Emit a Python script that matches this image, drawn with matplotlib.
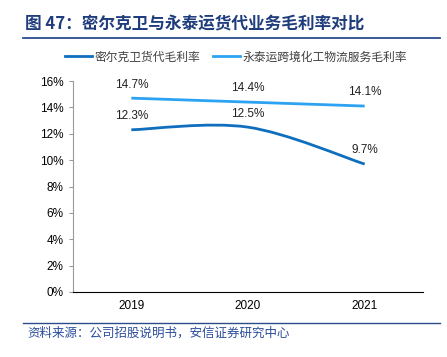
import numpy as np
import matplotlib
matplotlib.use('Agg')
import matplotlib.pyplot as plt
from matplotlib.path import Path
from matplotlib.patches import PathPatch
from matplotlib.lines import Line2D

plt.rcParams['font.family'] = ['Noto Sans CJK SC', 'DejaVu Sans']

# data
years = ['2019', '2020', '2021']
mek = [12.3, 12.5, 9.7]      # 密尔克卫货代毛利率
ytl = [14.7, 14.4, 14.1]     # 永泰运跨境化工物流服务毛利率
names = ['密尔克卫货代毛利率', '永泰运跨境化工物流服务毛利率']
colors = ['#0F6EBE', '#2BA3F2']
num_font = 'Liberation Sans'

W, H = 447, 357
fig = plt.figure(figsize=(W/100, H/100), dpi=100)
ax = fig.add_axes([73/W, 1-292/H, 350/W, 211/H])


def smooth_path(x, y):
    # Excel-like smoothed line via cubic bezier (Catmull-Rom tangents)
    x = np.asarray(x, float); y = np.asarray(y, float)
    n = len(x)
    verts = [(x[0], y[0])]
    codes = [Path.MOVETO]
    for i in range(n-1):
        p0 = np.array([x[max(i-1, 0)], y[max(i-1, 0)]])
        p1 = np.array([x[i], y[i]])
        p2 = np.array([x[i+1], y[i+1]])
        p3 = np.array([x[min(i+2, n-1)], y[min(i+2, n-1)]])
        c1 = p1 + (p2 - p0)/6
        c2 = p2 - (p3 - p1)/6
        verts += [tuple(c1), tuple(c2), tuple(p2)]
        codes += [Path.CURVE4]*3
    return Path(verts, codes)


xs = np.arange(len(years))
for vals, c in zip([mek, ytl], colors):
    ax.add_patch(PathPatch(smooth_path(xs, vals), fill=False, edgecolor=c,
                           lw=2.0, capstyle='butt'))
    for x, v in zip(xs, vals):
        ax.annotate(f'{v:.1f}%', (x, v), xytext=(0, 5.5), textcoords='offset points',
                    ha='center', va='bottom', fontsize=8.5, color='#222222',
                    family=num_font)

ax.set_xlim(-0.5, 2.5)
ax.set_ylim(0, 16)
ax.set_yticks(np.arange(0, 17, 2))
ax.set_yticklabels([f'{v}%' for v in range(0, 17, 2)], family=num_font, fontsize=8.5)
ax.set_xticks(xs)
ax.set_xticklabels(years, family=num_font, fontsize=8.5)
ax.tick_params(axis='x', length=0, pad=6)
ax.tick_params(axis='y', length=3, color='#999999', pad=4)
for s in ['top', 'right']:
    ax.spines[s].set_visible(False)
ax.spines['left'].set_color('#999999')
ax.spines['bottom'].set_color('#000000')

# legend
handles = [Line2D([], [], color=c, lw=2.0) for c in colors]
fig.legend(handles, names, loc='center', bbox_to_anchor=(236/W, 1-57/H), ncol=2,
           frameon=False, fontsize=8.5, handlelength=2.3, handletextpad=0.25,
           columnspacing=1.0, labelcolor='#404040')

# title and rules
fig.text(25/W, 1-24/H, '图 47：密尔克卫与永泰运货代业务毛利率对比', fontsize=12,
         fontweight='bold', color='#1F3C7C', va='center', ha='left')
fig.add_artist(Line2D([23/W, 440/W], [1-38/H, 1-38/H], color='#2B4D8C', lw=1.3))
fig.add_artist(Line2D([23/W, 440/W], [1-323/H, 1-323/H], color='#2B4D8C', lw=1.0))
fig.text(27/W, 1-333/H, '资料来源：公司招股说明书，安信证券研究中心', fontsize=9,
         color='#2B4D9C', va='center', ha='left', style='italic')

fig.savefig('out.png', dpi=100)
